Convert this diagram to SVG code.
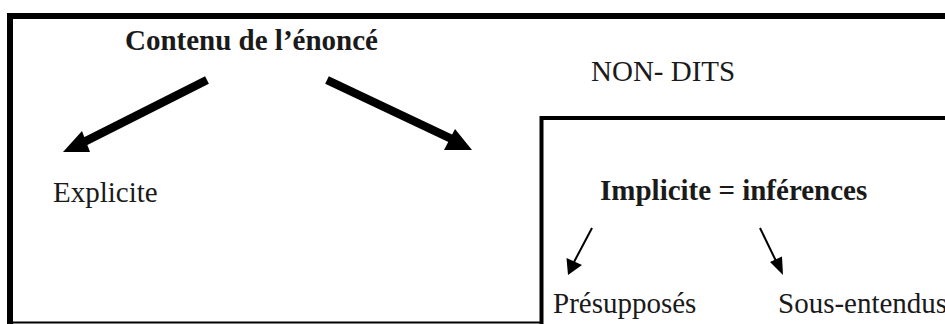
<svg xmlns="http://www.w3.org/2000/svg" width="945" height="324" viewBox="0 0 945 324">
  <style>
    text { font-family: "Liberation Serif", "Times New Roman", serif; fill: #1a1a1a; font-size: 29px; }
    .b { font-weight: bold; }
    .frame { fill: none; stroke: #000; }
    .thick { stroke: #000; stroke-width: 8.5; fill: none; }
    .thin { stroke: #000; stroke-width: 2; fill: none; }
    .head { fill: #000; }
  </style>
  <rect width="945" height="324" fill="#fff"/>

  <!-- outer frame (open on the right) -->
  <g id="outer-frame">
    <path class="frame" stroke-width="6" d="M945 16 H10 V324"/>
    <path class="frame" stroke-width="2" d="M10 322.5 H541"/>
  </g>

  <!-- inner frame for the implicit content -->
  <g id="inner-frame">
    <path class="frame" stroke-width="4" d="M945 118 H541.5 V324"/>
  </g>

  <g id="contenu"><text class="b" x="125" y="50" font-size="29.5">Contenu de l’énoncé</text></g>
  <g id="explicite"><text x="53" y="202">Explicite</text></g>
  <g id="non-dits"><text x="591" y="81">NON- DITS</text></g>
  <g id="implicite"><text class="b" x="600" y="200" font-size="29.8">Implicite = inférences</text></g>
  <g id="presupposes"><text x="553" y="313">Présupposés</text></g>
  <g id="sous-entendus"><text x="778" y="313">Sous-entendus</text></g>

  <g id="connectors">
    <!-- to Explicite -->
    <line class="thick" x1="207" y1="80" x2="80" y2="144"/>
    <polygon class="head" points="63,152 82,131 90,152"/>
    <!-- to the implicit box -->
    <line class="thick" x1="327" y1="80" x2="456" y2="141"/>
    <polygon class="head" points="472,150 455,129 444,150"/>
    <!-- to Présupposés -->
    <line class="thin" x1="592" y1="228" x2="574" y2="262"/>
    <polygon class="head" points="568,275 566.5,258 582,265"/>
    <!-- to Sous-entendus -->
    <line class="thin" x1="760" y1="228" x2="776" y2="261"/>
    <polygon class="head" points="783,275 770,262 782,256.5"/>
  </g>
</svg>
